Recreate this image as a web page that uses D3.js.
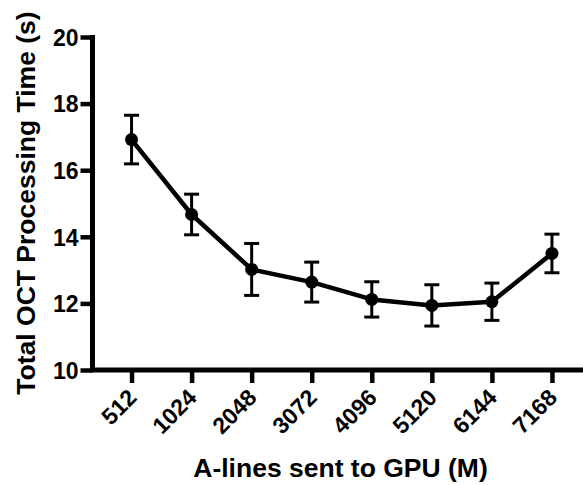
<!DOCTYPE html>
<html>
<head>
<meta charset="utf-8">
<script src="https://cdn.jsdelivr.net/npm/d3@7"></script>
<style>
  html, body { margin: 0; padding: 0; background: #fff; }
  svg { display: block; }
  text { font-family: "Liberation Sans", Arial, Helvetica, sans-serif; font-weight: bold; fill: #000; }
</style>
</head>
<body>
<script>
// A-line batch sizes and mean total processing time with SD
const categories = ["512", "1024", "2048", "3072", "4096", "5120", "6144", "7168"];
const meanTime = [16.92, 14.67, 13.02, 12.64, 12.12, 11.94, 12.05, 13.50];
const sdTime = [0.73, 0.61, 0.78, 0.60, 0.53, 0.62, 0.56, 0.58];
const yTicks = [10, 12, 14, 16, 18, 20];

const W = 583, H = 485;
const svg = d3.select("body").append("svg").attr("width", W).attr("height", H);

const x = d3.scalePoint().domain(categories).range([92.5, 591]).padding(0.65);
const y = d3.scaleLinear().domain([10, 20]).range([370, 37]);

// y axis
const yAxis = svg.append("g")
  .attr("transform", "translate(92.5,0)")
  .call(d3.axisLeft(y).tickValues(yTicks).tickSize(12).tickSizeOuter(0).tickPadding(2));
yAxis.attr("font-size", null).attr("font-family", null);
yAxis.select(".domain").attr("stroke", "#000").attr("stroke-width", 5)
  .attr("d", `M0,${y(20) - 2}V${y(10)}`);
yAxis.selectAll(".tick line").attr("stroke", "#000").attr("stroke-width", 4.5);
yAxis.selectAll(".tick text").style("font-size", "23px").attr("dy", "0.36em");

// x axis
const xAxis = svg.append("g")
  .attr("transform", "translate(0,370)")
  .call(d3.axisBottom(x).tickSize(13).tickSizeOuter(0));
xAxis.attr("font-size", null).attr("font-family", null);
xAxis.select(".domain").attr("stroke", "#000").attr("stroke-width", 5)
  .attr("d", `M90,0H${W + 10}`);
xAxis.selectAll(".tick line").attr("stroke", "#000").attr("stroke-width", 4.5);
xAxis.selectAll(".tick text")
  .style("font-size", "23px")
  .attr("text-anchor", "end")
  .attr("x", 0).attr("y", 0).attr("dy", 0)
  .attr("transform", "translate(6,29) rotate(-45)");

// error bars
const bars = svg.append("g");
categories.forEach((c, i) => {
  const cx = x(c), top = y(meanTime[i] + sdTime[i]), bot = y(meanTime[i] - sdTime[i]);
  bars.append("line").attr("x1", cx).attr("x2", cx).attr("y1", top).attr("y2", bot)
    .attr("stroke", "#000").attr("stroke-width", 3);
  [top, bot].forEach(v => bars.append("line")
    .attr("x1", cx - 7.5).attr("x2", cx + 7.5).attr("y1", v).attr("y2", v)
    .attr("stroke", "#000").attr("stroke-width", 3));
});

// mean line
const line = d3.line().x((d, i) => x(categories[i])).y(d => y(d));
svg.append("path").datum(meanTime).attr("d", line)
  .attr("fill", "none").attr("stroke", "#000").attr("stroke-width", 4.5)
  .attr("stroke-linejoin", "round");

// markers
svg.append("g").selectAll("circle").data(meanTime).join("circle")
  .attr("cx", (d, i) => x(categories[i])).attr("cy", d => y(d)).attr("r", 6.5)
  .attr("fill", "#000");

// axis titles
svg.append("text")
  .attr("transform", "translate(35,203) rotate(-90)")
  .attr("text-anchor", "middle").style("font-size", "26.5px")
  .text("Total OCT Processing Time (s)");
svg.append("text")
  .attr("x", 340.5).attr("y", 476.5)
  .attr("text-anchor", "middle").style("font-size", "26.5px")
  .text("A-lines sent to GPU (M)");
</script>
</body>
</html>
